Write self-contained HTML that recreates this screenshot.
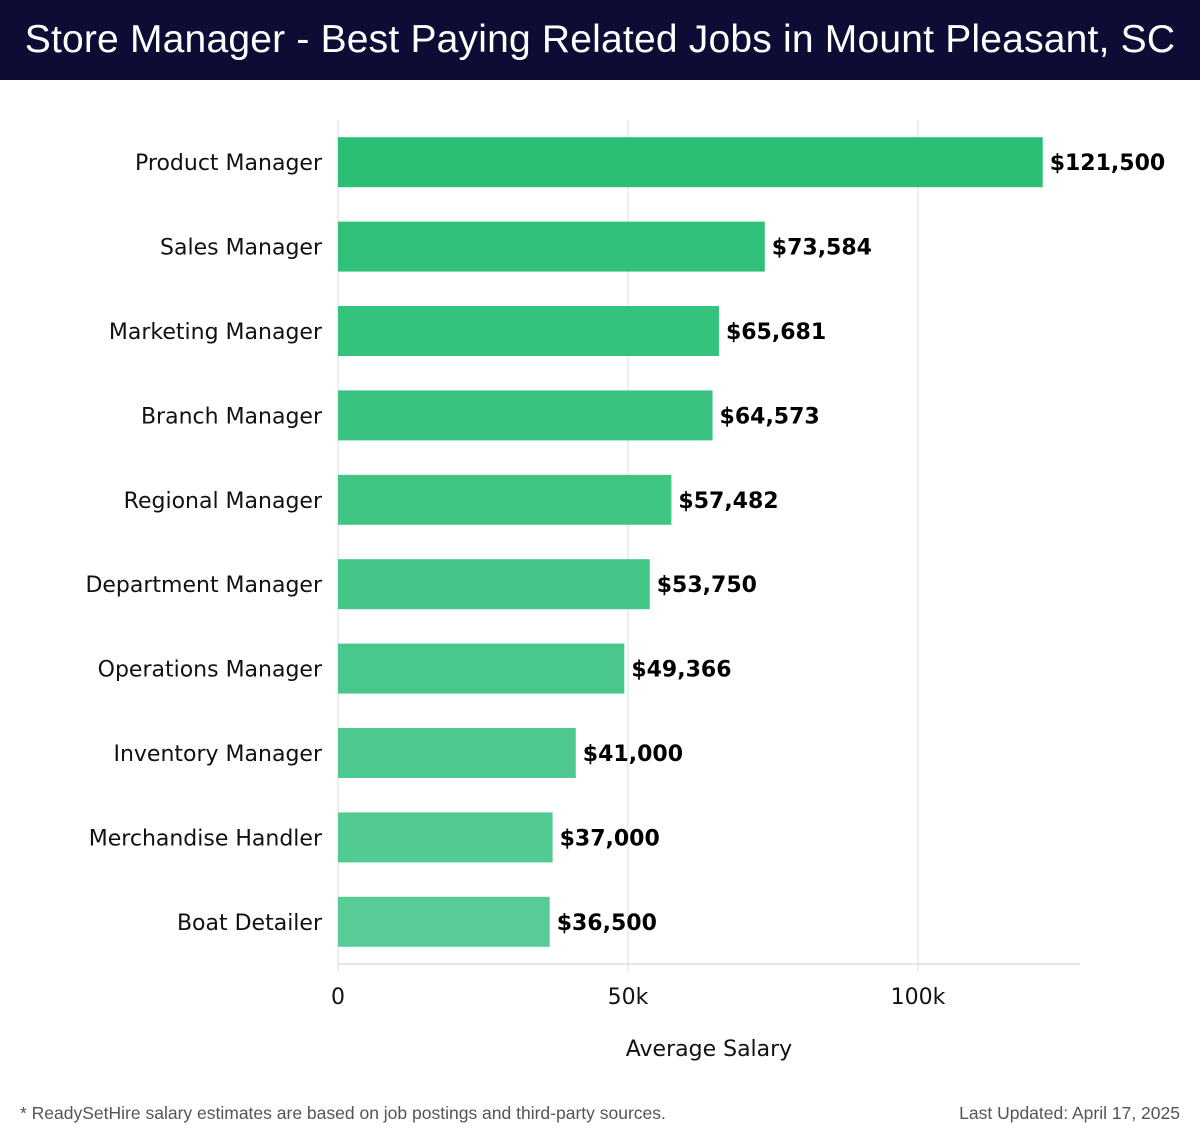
<!DOCTYPE html>
<html><head><meta charset="utf-8"><style>
body{margin:0;width:1200px;height:1140px;background:#fff;overflow:hidden;font-family:"DejaVu Sans","Liberation Sans",sans-serif}
#hdr{position:absolute;left:0;top:0;width:1200px;height:80px;background:#0c0c35;color:#fff;font-family:"Liberation Sans",sans-serif;font-size:39px;line-height:80px;text-align:center;letter-spacing:0.2px}
</style></head><body>
<div id="hdr">Store Manager - Best Paying Related Jobs in Mount Pleasant, SC</div>
<svg id="chart" width="1200" height="1140" style="position:absolute;left:0;top:0"></svg>
<script>
const categories=["Product Manager","Sales Manager","Marketing Manager","Branch Manager","Regional Manager","Department Manager","Operations Manager","Inventory Manager","Merchandise Handler","Boat Detailer"];
const salaries=[121500,73584,65681,64573,57482,53750,49366,41000,37000,36500];
const valueLabels=["$121,500","$73,584","$65,681","$64,573","$57,482","$53,750","$49,366","$41,000","$37,000","$36,500"];
const tickValues=[0,50000,100000];
const tickLabels=["0","50k","100k"];
const NS="http://www.w3.org/2000/svg";
const svg=document.getElementById('chart');
const x0=338,pxPer=290/50000,top0=120,bottom0=964,step=(bottom0-top0)/categories.length,barH=50;
const xs=v=>x0+v*pxPer;
const yc=i=>top0+step*(i+0.5);
function mk(t,a){const e=document.createElementNS(NS,t);for(const k in a)e.setAttribute(k,a[k]);svg.appendChild(e);return e;}
tickValues.forEach((v,i)=>{
 const g=mk('line',{x1:xs(v),x2:xs(v),y1:top0,y2:bottom0+8,stroke:'#dcdcdc','stroke-width':1});
 
 
 const t=mk('text',{x:xs(v),y:1004,'text-anchor':'middle','font-size':22,fill:'#111'});
 t.textContent=tickLabels[i];
 
 
});
const ax=mk('line',{x1:x0,x2:1080,y1:bottom0,y2:bottom0,stroke:'#d0d0d0','stroke-width':1});


categories.forEach((c,i)=>{
 const y=yc(i);
 const f=i/(categories.length-1);
 const r=Math.round(43+f*(87-43)),g=Math.round(191+f*(204-191)),b=Math.round(117+f*(151-117));
 const bar=mk('rect',{x:x0,y:y-barH/2,width:xs(salaries[i])-x0,height:barH,fill:`rgb(${r},${g},${b})`});
 
 
 const l=mk('text',{x:322,y:y+8,'text-anchor':'end','font-size':22,fill:'#111'});
 l.textContent=c;
 
 
 const v=mk('text',{x:xs(salaries[i])+7,y:y+8,'font-size':22,'font-weight':'bold',fill:'#000'});
 v.textContent=valueLabels[i];
 
 
});
const xt=mk('text',{x:709,y:1056,'text-anchor':'middle','font-size':22,fill:'#111'});
xt.textContent='Average Salary';


const fn=mk('text',{x:20,y:1119,'font-size':17.5,fill:'#555','font-family':'Liberation Sans, sans-serif'});
fn.textContent='* ReadySetHire salary estimates are based on job postings and third-party sources.';


const up=mk('text',{x:1180,y:1119,'text-anchor':'end','font-size':17.5,fill:'#555','font-family':'Liberation Sans, sans-serif'});
up.textContent='Last Updated: April 17, 2025';


</script>
</body></html>
